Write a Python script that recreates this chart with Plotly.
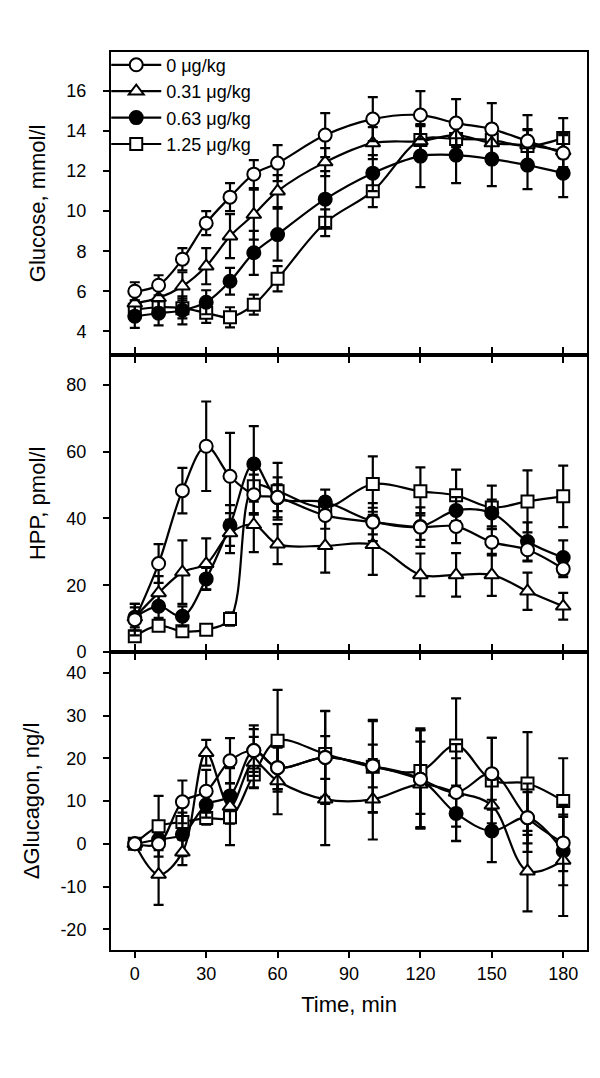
import plotly.graph_objects as go
from plotly.subplots import make_subplots

# ---------------- data ----------------
time_min = [0, 10, 20, 30, 40, 50, 60, 80, 100, 120, 135, 150, 165, 180]
dose_labels = ["0 μg/kg", "0.31 μg/kg", "0.63 μg/kg", "1.25 μg/kg"]

glucose_0 = [6.0, 6.3, 7.6, 9.4, 10.7, 11.85, 12.4, 13.8, 14.6, 14.8, 14.4, 14.1, 13.5, 12.9]
glucose_0_err = [0.45, 0.5, 0.55, 0.6, 0.7, 0.7, 0.9, 1.1, 1.1, 1.2, 1.2, 1.3, 1.3, 1.0]
glucose_031 = [5.4, 5.67, 6.25, 7.25, 8.75, 9.83, 11.0, 12.45, 13.4, 13.5, 13.8, 13.4, 13.3, 13.0]
glucose_031_err = [0.4, 0.5, 0.7, 0.9, 1.1, 1.25, 0.8, 0.7, 0.8, 0.75, 0.8, 0.8, 0.8, 0.8]
glucose_063 = [4.75, 4.9, 5.05, 5.45, 6.5, 7.92, 8.83, 10.6, 11.9, 12.75, 12.8, 12.6, 12.3, 11.9]
glucose_063_err = [0.58, 0.6, 0.7, 0.6, 0.67, 1.1, 1.3, 1.4, 0.9, 1.55, 1.4, 1.35, 1.2, 1.2]
glucose_125 = [5.08, 5.2, 5.15, 4.92, 4.7, 5.33, 6.62, 9.42, 11.0, 13.55, 13.6, 13.55, 13.25, 13.65]
glucose_125_err = [0.45, 0.45, 0.5, 0.5, 0.5, 0.5, 0.63, 0.67, 0.8, 0.8, 0.8, 0.8, 0.8, 1.0]

hpp_0 = [9.7, 26.5, 48.3, 61.6, 52.6, 47.1, 46.3, 40.9, 38.9, 37.4, 37.6, 32.9, 30.6, 24.9]
hpp_0_err = [4.7, 5.8, 6.8, 13.4, 13.0, 6.0, 6.0, 4.0, 5.7, 5.9, 5.0, 4.0, 3.5, 2.5]
hpp_031 = [10.4, 17.7, 23.9, 26.4, 35.6, 38.1, 32.3, 31.8, 32.1, 23.1, 23.1, 23.1, 18.2, 13.7]
hpp_031_err = [3.0, 5.0, 9.5, 7.6, 6.0, 8.2, 6.0, 8.0, 9.0, 6.4, 6.5, 6.3, 5.6, 4.0]
hpp_063 = [10.4, 13.7, 10.7, 21.9, 37.9, 56.3, 46.2, 44.9, 39.2, 37.6, 42.4, 41.6, 33.1, 28.3]
hpp_063_err = [4.0, 3.5, 3.0, 3.3, 6.1, 11.3, 4.0, 3.7, 4.0, 4.0, 4.0, 4.0, 5.7, 5.1]
hpp_125 = [4.7, 7.9, 6.2, 6.7, 9.9, 49.6, 48.1, 43.3, 50.3, 48.1, 46.9, 43.3, 45.1, 46.6]
hpp_125_err = [1.5, 1.5, 1.2, 1.2, 2.0, 8.0, 8.5, 3.0, 8.3, 7.2, 7.7, 6.5, 9.3, 9.2]

glucagon_0 = [0, 0, 9.8, 12.3, 19.4, 21.8, 17.8, 20.2, 18.2, 15.1, 12.0, 16.4, 6.1, 0.2]
glucagon_0_err = [0.5, 1.5, 5.0, 5.0, 5.3, 5.0, 5.0, 10.9, 10.8, 11.5, 8.0, 8.4, 8.0, 6.6]
glucagon_031 = [0, -7.2, -2.0, 21.3, 8.7, 19.0, 14.7, 10.4, 10.4, 13.9, 12.0, 9.0, -6.4, -3.9]
glucagon_031_err = [0.5, 7.1, 3.0, 3.0, 9.0, 6.0, 7.8, 10.7, 9.4, 10.0, 11.3, 6.0, 9.4, 13.0]
glucagon_063 = [0, 1.0, 2.2, 9.1, 11.2, 21.8, 17.8, 20.2, 18.2, 15.1, 7.1, 3.0, 6.1, -1.7]
glucagon_063_err = [0.5, 1.5, 5.1, 3.0, 3.0, 5.9, 5.0, 5.0, 5.0, 11.5, 6.5, 7.3, 6.0, 8.0]
glucagon_125 = [0, 4.1, 5.1, 6.0, 6.2, 16.2, 24.1, 21.0, 18.0, 17.0, 23.0, 14.8, 14.1, 10.0]
glucagon_125_err = [0.5, 7.1, 4.0, 1.5, 1.5, 3.0, 11.9, 10.0, 10.7, 10.0, 11.0, 10.0, 12.0, 10.0]

x_ticks = [0, 30, 60, 90, 120, 150, 180]
glucose_ticks = [4, 6, 8, 10, 12, 14, 16]
hpp_ticks = [0, 20, 40, 60, 80]
glucagon_ticks = [-20, -10, 0, 10, 20, 30, 40]
glucagon_tick_text = ["-20", "-10", "0", "10", "20", "30", "40"]

# ---------------- figure ----------------
FONT = "Liberation Sans, Arial, sans-serif"
fig = make_subplots(rows=3, cols=1, shared_xaxes=True, vertical_spacing=0)

styles = [
    dict(symbol="circle", color="white", size=13),
    dict(symbol="triangle-up", color="white", size=13),
    dict(symbol="circle", color="black", size=13),
    dict(symbol="square", color="white", size=12),
]

panels = [
    (1, [glucose_0, glucose_031, glucose_063, glucose_125],
        [glucose_0_err, glucose_031_err, glucose_063_err, glucose_125_err]),
    (2, [hpp_0, hpp_031, hpp_063, hpp_125],
        [hpp_0_err, hpp_031_err, hpp_063_err, hpp_125_err]),
    (3, [glucagon_0, glucagon_031, glucagon_063, glucagon_125],
        [glucagon_0_err, glucagon_031_err, glucagon_063_err, glucagon_125_err]),
]

draw_order = [3, 2, 1, 0]
for row, series, errs in panels:
    for i in draw_order:
        st = styles[i]
        fig.add_trace(go.Scatter(
            x=time_min, y=series[i],
            mode="lines+markers",
            name=dose_labels[i],
            legendrank=i + 1,
            showlegend=(row == 1),
            line=dict(color="black", width=2.2, shape="spline", smoothing=1.0),
            marker=dict(symbol=st["symbol"], size=st["size"], color=st["color"],
                        line=dict(color="black", width=2)),
            error_y=dict(type="data", array=errs[i], visible=True,
                         color="black", thickness=2.2, width=5),
        ), row=row, col=1)

axis_common = dict(showline=True, linecolor="black", linewidth=2,
                   ticks="outside", ticklen=6, tickwidth=2, tickcolor="black",
                   showgrid=False, zeroline=False,
                   tickfont=dict(family=FONT, size=18, color="black"))

for r in (1, 2, 3):
    fig.update_xaxes(range=[-10, 190], tickvals=x_ticks,
                     mirror=("ticks" if r > 1 else True),
                     showticklabels=(r == 3), row=r, col=1, **axis_common)

fig.update_xaxes(title=dict(text="Time, min", font=dict(family=FONT, size=22, color="black"),
                            standoff=14), row=3, col=1)

fig.update_yaxes(range=[2.83, 17.95], tickvals=glucose_ticks,
                 domain=[0.6629, 1.0], mirror=True, row=1, col=1,
                 title=dict(text="Glucose, mmol/l", font=dict(family=FONT, size=22, color="black")),
                 **axis_common)
fig.update_yaxes(range=[0, 89], tickvals=hpp_ticks,
                 domain=[0.3318, 0.6629], mirror=True, row=2, col=1,
                 title=dict(text="HPP, pmol/l", font=dict(family=FONT, size=22, color="black")),
                 **axis_common)
fig.update_yaxes(range=[-24.85, 44.85], tickvals=glucagon_ticks, ticktext=glucagon_tick_text,
                 domain=[0.0, 0.3318], mirror=True, row=3, col=1,
                 title=dict(text="ΔGlucagon, ng/l", font=dict(family=FONT, size=22, color="black")),
                 **axis_common)

fig.update_yaxes(ticklabelstandoff=13)

fig.update_layout(
    width=600, height=1078,
    margin=dict(l=103, r=21, t=44, b=136, autoexpand=False),
    paper_bgcolor="white", plot_bgcolor="white",
    font=dict(family=FONT, color="black"),
    legend=dict(x=-0.01, y=1.006, xanchor="left", yanchor="top",
                bgcolor="rgba(0,0,0,0)", borderwidth=0,
                font=dict(family=FONT, size=18, color="black"),
                itemwidth=50, tracegroupgap=0),
)

fig.write_html("out.html")
